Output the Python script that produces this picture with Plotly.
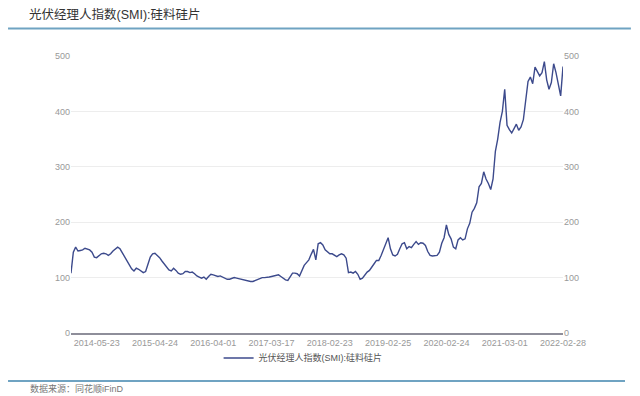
import plotly.graph_objects as go
from datetime import date, timedelta

# ---- data ----
series_name = "光伏经理人指数(SMI):硅料硅片"
tick_labels = ["2014-05-23", "2015-04-24", "2016-04-01", "2017-03-17", "2018-02-23",
               "2019-02-25", "2020-02-24", "2021-03-01", "2022-02-28"]
points_per_label = 25   # categories between consecutive axis labels
lead_points = 11        # categories before the first label

smi_values = [
    108, 146, 155, 148, 149, 150, 153, 151, 150, 146,
    137, 136, 140, 143, 144, 143, 140, 143, 148, 151,
    155, 152, 145, 138, 129, 122, 116, 112, 117, 115,
    112, 109, 111, 126, 137, 143, 144, 140, 136, 130,
    124, 120, 114, 112, 117, 113, 108, 106, 107, 111,
    111, 109, 110, 107, 103, 101, 99, 101, 97, 102,
    106, 105, 104, 102, 103, 101, 99, 97, 97, 99,
    100, 99, 98, 97, 95, 94, 94, 93, 93, 95,
    97, 99, 100, 100, 100, 101, 102, 103, 104, 105,
    102, 99, 96, 95, 101, 108, 108, 107, 103, 114,
    122, 127, 132, 142, 151, 132, 161, 163, 159, 150,
    147, 143, 143, 140, 138, 141, 143, 141, 135, 109,
    110, 108, 111, 106, 97, 99, 105, 110, 113, 118,
    125, 131, 131, 140, 151, 159, 172, 152, 141, 139,
    142, 152, 161, 163, 152, 156, 154, 160, 165, 160,
    163, 162, 158, 147, 140, 139, 139, 140, 146, 162,
    172, 195, 178, 170, 155, 152, 168, 172, 168, 170,
    188, 198, 218, 225, 235, 264, 270, 291, 278, 270,
    259, 278, 328, 350, 380, 400, 440, 375, 367, 361,
    369, 377, 366, 372, 385, 424, 454, 462, 450, 480,
    471, 464, 470, 490, 457, 440, 452, 486, 470, 445,
    428, 481,
]

# ---- build category dates from the label anchors ----
anchors = [date.fromisoformat(s) for s in tick_labels]
dates = []
first_step = (anchors[1] - anchors[0]).days / points_per_label
for i in range(lead_points, 0, -1):
    dates.append((anchors[0] - timedelta(days=round(first_step * i))).isoformat())
for j in range(len(anchors) - 1):
    span = (anchors[j + 1] - anchors[j]).days
    for k in range(points_per_label):
        dates.append((anchors[j] + timedelta(days=round(span * k / points_per_label))).isoformat())
dates.append(anchors[-1].isoformat())

LINE = "#3c4a8c"
FONT = "Liberation Sans, Noto Sans CJK SC, sans-serif"
ACCENT = "#6fa3c2"

fig = go.Figure()
fig.add_trace(go.Scatter(x=dates, y=smi_values, mode="lines", name=series_name,
                         line=dict(color=LINE, width=1.4)))
fig.add_trace(go.Scatter(x=dates, y=smi_values, mode="lines", yaxis="y2",
                         line=dict(color="rgba(0,0,0,0)", width=0),
                         showlegend=False, hoverinfo="skip"))

fig.update_layout(
    width=640, height=396,
    margin=dict(l=71, r=77, t=56, b=63),
    paper_bgcolor="white", plot_bgcolor="white",
    font=dict(family=FONT, size=9, color="#999999"),
    xaxis=dict(type="category", range=[0, len(dates) - 1],
               tickmode="array", tickvals=tick_labels, ticktext=tick_labels,
               tickangle=0, showgrid=False, showline=True,
               linecolor="#8e8e9a", linewidth=1.5, ticks="",
               tickfont=dict(size=9, color="#999999")),
    yaxis=dict(range=[0, 500], dtick=100, showgrid=True, gridcolor="#ededed",
               gridwidth=1, zeroline=False, showline=False, ticks="",
               tickfont=dict(size=9, color="#999999")),
    yaxis2=dict(range=[0, 500], dtick=100, overlaying="y", side="right",
                showgrid=False, zeroline=False, showline=False, ticks="",
                tickfont=dict(size=9, color="#999999")),
    showlegend=True,
    legend=dict(orientation="h", x=0.30, xanchor="left", y=-0.09, yanchor="middle",
                font=dict(size=9, color="#555555", family=FONT),
                bgcolor="rgba(0,0,0,0)"),
    annotations=[
        dict(text=series_name, xref="paper", yref="paper", x=-0.0894, y=1.1516,
             xanchor="left", yanchor="middle", showarrow=False,
             font=dict(size=12.5, color="#333333", family=FONT)),
        dict(text="数据来源：同花顺iFinD", xref="paper", yref="paper", x=-0.087, y=-0.1986,
             xanchor="left", yanchor="middle", showarrow=False,
             font=dict(size=9, color="#777777", family=FONT)),
    ],
    shapes=[
        dict(type="line", xref="paper", yref="paper", x0=-0.128, x1=1.138, y0=1.099, y1=1.099,
             line=dict(color=ACCENT, width=2)),
        dict(type="line", xref="paper", yref="paper", x0=-0.128, x1=1.126, y0=-0.173, y1=-0.173,
             line=dict(color=ACCENT, width=2)),
    ],
)

fig.write_html("out.html", config={"displayModeBar": False},
               post_script="document.body.style.margin='0';document.body.style.overflow='hidden';")
